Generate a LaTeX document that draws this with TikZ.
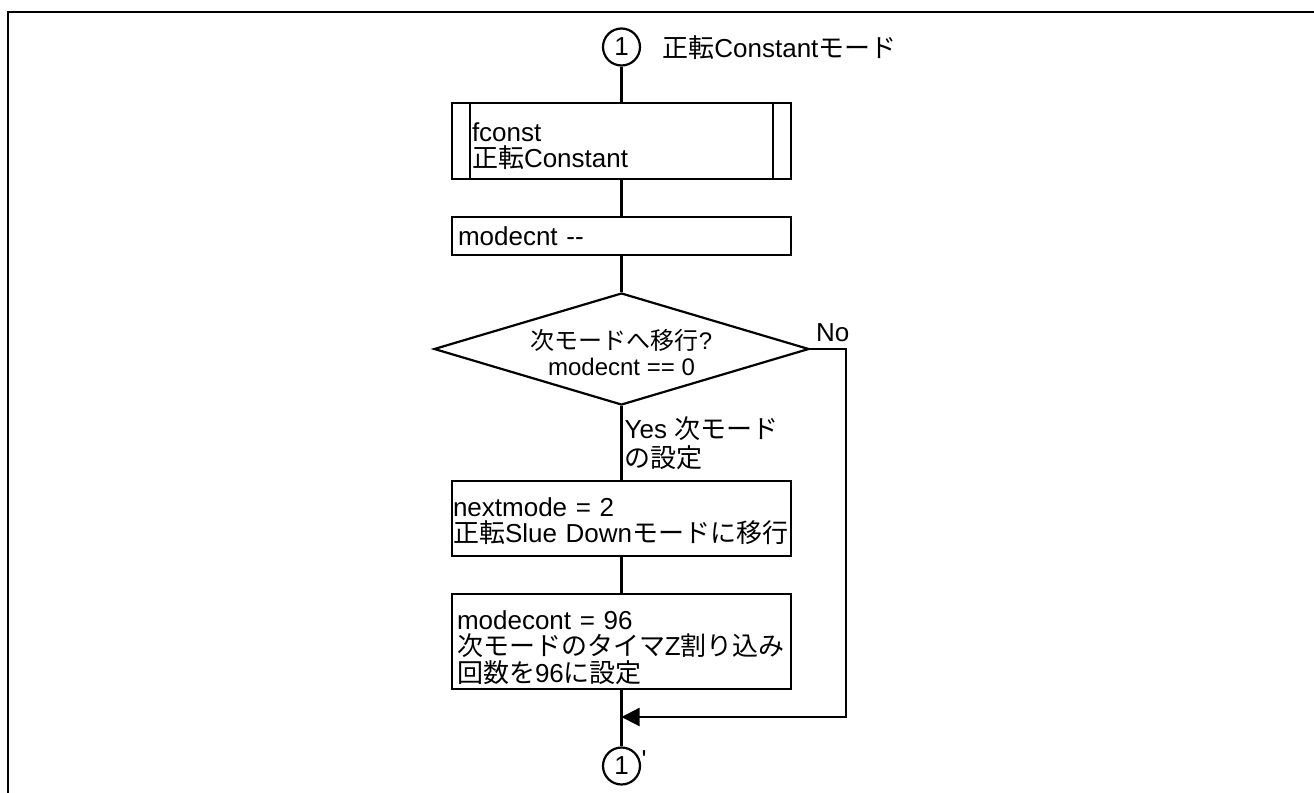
\documentclass[tikz,border=0pt]{standalone}
\usepackage{fontspec}
\setmainfont{Liberation Sans}
\newfontfamily\jp{Noto Sans CJK JP}
\usetikzlibrary{shapes.geometric,arrows.meta}
\newcommand{\ja}[1]{{\jp #1}}
\newcommand{\lift}[1]{\rule{0pt}{#1}}

\begin{document}
\begin{tikzpicture}[x=0.5pt,y=-0.5pt,
		every node/.style={font=\fontsize{13}{13.3}\selectfont},
		flow/.style={line width=1.1pt},
		procbox/.style={draw,flow,rectangle,minimum width=169.5pt,align=left,inner xsep=2.5pt,inner ysep=0pt,text width=164.5pt},
		conn/.style={draw,flow,circle,minimum size=18.5pt,inner sep=0pt},
		decide/.style={draw,flow,diamond,minimum width=187.5pt,minimum height=56pt,aspect=3.35,inner sep=0pt,align=center,font=\fontsize{12}{13}\selectfont},
		tip/.style={-{Triangle[length=9pt,width=9pt]}}]
		\useasboundingbox (0,0) rectangle (1314,793);
		%\draw [help lines] (0,0) grid (1314,793);
		\draw [line width=1.4pt] (8,793) -- (8,12) -- (1314,12);
		\node [conn] (c1) at (621.5,47) {1};
		\node [anchor=west,inner sep=0pt] (title) at (662,48) {\ja{正転}Constant\ja{モード}};
		\node [procbox,minimum height=38pt,inner xsep=10pt,text width=149.5pt] (fconst) at (621.5,141) {\lift{14.5pt}fconst\\\ja{正転}Constant};
		\draw [flow] ([xshift=9.5pt]fconst.north west) -- ([xshift=9.5pt]fconst.south west);
		\draw [flow] ([xshift=-9.5pt]fconst.north east) -- ([xshift=-9.5pt]fconst.south east);
		\node [procbox,minimum height=19pt,inner xsep=3pt,text width=163.5pt] (dec) at (621.5,236) {modecnt -{}-};
		\node [decide] (next) at (621.5,349) {\lift{14pt}\ja{次モードへ移行}?\\modecnt == 0};
		\node [procbox,minimum height=37.5pt,inner xsep=0.5pt,text width=168.5pt] (setmode) at (621.5,518.5) {\lift{12pt}nextmode = 2\\\ja{正転}Slue Down\ja{モードに移行}};
		\node [procbox,minimum height=47.5pt] (setcnt) at (621.5,641.5) {\lift{15.5pt}modecont = 96\\\ja{次モードのタイマ}Z\ja{割り込み}\\\ja{回数を}96\ja{に設定}};
		\node [conn,label={[inner sep=0pt,yshift=3pt]east:\textquotesingle}] (c2) at (621.5,766) {1};
		\coordinate (bend) at (846,717);
		\coordinate (join) at (621.5,717);
		%main flow
		\draw [flow] (c1) -- (fconst);
		\draw [flow] (fconst) -- (dec);
		\draw [flow] (dec) -- (next);
		\draw [flow] (next) -- (setmode) node[pos=0,anchor=north west,inner sep=1pt,yshift=-4pt,align=left,font=\fontsize{13}{14.2}\selectfont] {Yes \ja{次モード}\\\ja{の設定}};
		\draw [flow] (setmode) -- (setcnt);
		\draw [flow] (setcnt) -- (c2);
		%no branch back to the main line
		\draw [flow,tip] (next.east) node[anchor=south west,inner sep=1pt,xshift=1.5pt,yshift=2pt] {No} -| (bend) -- (join);
\end{tikzpicture}
\end{document}
